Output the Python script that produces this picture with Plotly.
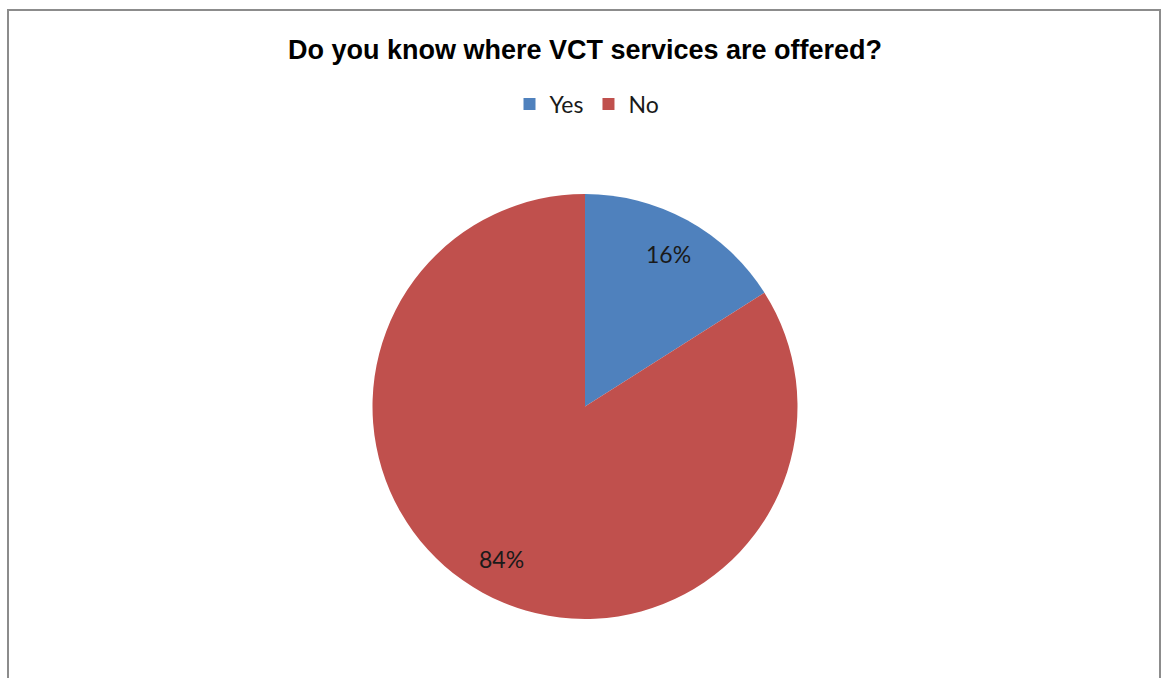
import math
import plotly.graph_objects as go

# Survey responses
labels = ["Yes", "No"]
values = [16, 84]
colors = ["#4F81BD", "#C0504D"]

W, H = 1161, 678
ML, MR, MT, MB = 100, 91, 194, 59
PW, PH = W - ML - MR, H - MT - MB
R = min(PW, PH) / 2

fig = go.Figure(
    go.Pie(
        labels=labels,
        values=values,
        marker=dict(colors=colors, line=dict(width=0)),
        sort=False,
        direction="clockwise",
        rotation=0,
        textinfo="none",
        hoverinfo="label+percent",
    )
)

# Percentage labels placed along each slice's mid-angle
total = sum(values)
cum = 0
annotations = []
for v in values:
    mid = (cum + v / 2) / total * 2 * math.pi
    cum += v
    r = 0.82 * R
    dx = r * math.sin(mid)
    dy = r * math.cos(mid)
    annotations.append(
        dict(
            x=0.5 + dx / PW,
            y=0.5 + dy / PH,
            xref="paper",
            yref="paper",
            xanchor="center",
            yanchor="middle",
            text=f"{round(v / total * 100)}%",
            showarrow=False,
            font=dict(family="Lato, Carlito, sans-serif", size=23, color="#1a1a1a"),
        )
    )

def px_x(x):
    return (x - ML) / PW

def px_y(y):
    return (H - MB - y) / PH

fig.update_layout(
    width=W,
    height=H,
    margin=dict(l=ML, r=MR, t=MT, b=MB),
    paper_bgcolor="white",
    plot_bgcolor="white",
    title=dict(
        text="<b>Do you know where VCT services are offered?</b>",
        x=585 / W,
        xanchor="center",
        y=1 - 50 / H,
        yanchor="middle",
        font=dict(family="Liberation Sans, Arial, sans-serif", size=27, color="#000000"),
    ),
    legend=dict(
        orientation="h",
        x=px_x(587),
        xanchor="center",
        y=px_y(104),
        yanchor="middle",
        font=dict(family="Lato, Carlito, sans-serif", size=23, color="#1a1a1a"),
        itemwidth=30,
        traceorder="normal",
    ),
    annotations=annotations,
    shapes=[
        dict(
            type="rect",
            xref="paper",
            yref="paper",
            x0=px_x(8),
            x1=px_x(1160),
            y0=px_y(700),
            y1=px_y(10),
            line=dict(color="#8c8c8c", width=2),
            fillcolor="rgba(0,0,0,0)",
            layer="below",
        )
    ],
)

fig.write_html("out.html")
